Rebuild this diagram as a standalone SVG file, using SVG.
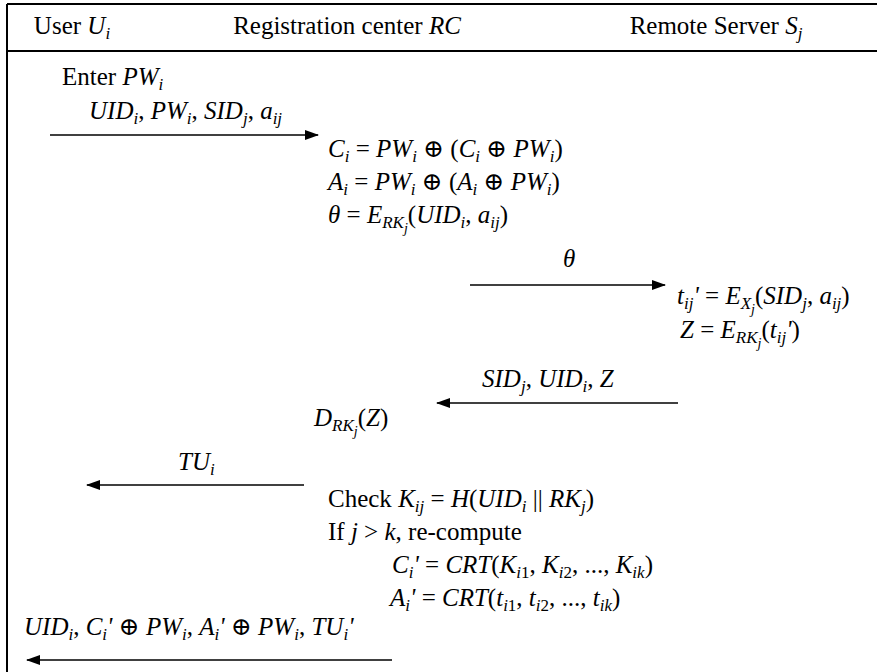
<svg xmlns="http://www.w3.org/2000/svg" width="877" height="672" viewBox="0 0 877 672">
  <style>
    text { font-family: "Liberation Serif", "Times New Roman", "DejaVu Serif", serif; font-size: 25px; fill: #000; }
    .i { font-style: italic; }
    .s { font-size: 17px; baseline-shift: -5px; }
    .ss { font-size: 14px; baseline-shift: -5px; }
    .op { font-family: "DejaVu Serif", serif; font-size: 25px; }
    .hd { text-anchor: middle; }
    .frame { stroke: #000; stroke-width: 2; fill: none; }
    .msg { stroke: #000; stroke-width: 1.5; fill: none; marker-end: url(#head); }
  </style>
  <defs>
    <marker id="head" viewBox="0 0 14 10" refX="13" refY="5" markerWidth="14" markerHeight="10" markerUnits="userSpaceOnUse" orient="auto">
      <path d="M0,0 L14,5 L0,10 Z" fill="#000"/>
    </marker>
  </defs>

  <!-- table frame: top rule, header rule, left rule -->
  <g id="frame">
    <path class="frame" d="M7,4 H877 M7,51 H877 M7,4 V672"/>
  </g>

  <!-- column headings -->
  <g id="header">
    <text class="hd" x="72" y="34">User <tspan class="i">U</tspan><tspan class="s i">i</tspan></text>
    <text class="hd" x="347" y="34">Registration center <tspan class="i">RC</tspan></text>
    <text class="hd" x="716" y="34">Remote Server <tspan class="i">S</tspan><tspan class="s i">j</tspan></text>
  </g>

  <!-- user side -->
  <g id="user">
    <text x="62" y="85">Enter <tspan class="i">PW</tspan><tspan class="s i">i</tspan></text>
  </g>

  <!-- registration center computations -->
  <g id="rc">
    <text x="328" y="157"><tspan class="i">C</tspan><tspan class="s i">i</tspan> = <tspan class="i">PW</tspan><tspan class="s i">i</tspan> <tspan class="op">⊕</tspan> (<tspan class="i">C</tspan><tspan class="s i">i</tspan> <tspan class="op">⊕</tspan> <tspan class="i">PW</tspan><tspan class="s i">i</tspan>)</text>
    <text x="328" y="190"><tspan class="i">A</tspan><tspan class="s i">i</tspan> = <tspan class="i">PW</tspan><tspan class="s i">i</tspan> <tspan class="op">⊕</tspan> (<tspan class="i">A</tspan><tspan class="s i">i</tspan> <tspan class="op">⊕</tspan> <tspan class="i">PW</tspan><tspan class="s i">i</tspan>)</text>
    <text x="328" y="223"><tspan class="i">θ</tspan> = <tspan class="i">E</tspan><tspan class="s i">RK<tspan class="ss">j</tspan></tspan>(<tspan class="i">UID</tspan><tspan class="s i">i</tspan>, <tspan class="i">a</tspan><tspan class="s i">ij</tspan>)</text>
    <text x="314" y="426"><tspan class="i">D</tspan><tspan class="s i">RK<tspan class="ss">j</tspan></tspan>(<tspan class="i">Z</tspan>)</text>
    <text x="328" y="507">Check <tspan class="i">K</tspan><tspan class="s i">ij</tspan> = <tspan class="i">H</tspan>(<tspan class="i">UID</tspan><tspan class="s i">i</tspan> || <tspan class="i">RK</tspan><tspan class="s i">j</tspan>)</text>
    <text x="328" y="540">If <tspan class="i">j</tspan> &gt; <tspan class="i">k</tspan>, re-compute</text>
    <text x="392" y="573"><tspan class="i">C</tspan><tspan class="s i">i</tspan><tspan class="i">'</tspan> = <tspan class="i">CRT</tspan>(<tspan class="i">K</tspan><tspan class="s"><tspan class="i">i</tspan>1</tspan>, <tspan class="i">K</tspan><tspan class="s"><tspan class="i">i</tspan>2</tspan>, ..., <tspan class="i">K</tspan><tspan class="s i">ik</tspan>)</text>
    <text x="390" y="606"><tspan class="i">A</tspan><tspan class="s i">i</tspan><tspan class="i">'</tspan> = <tspan class="i">CRT</tspan>(<tspan class="i">t</tspan><tspan class="s"><tspan class="i">i</tspan>1</tspan>, <tspan class="i">t</tspan><tspan class="s"><tspan class="i">i</tspan>2</tspan>, ..., <tspan class="i">t</tspan><tspan class="s i">ik</tspan>)</text>
  </g>

  <!-- remote server computations -->
  <g id="server">
    <text x="677" y="304"><tspan class="i">t</tspan><tspan class="s i">ij</tspan><tspan class="i">'</tspan> = <tspan class="i">E</tspan><tspan class="s i">X<tspan class="ss">j</tspan></tspan>(<tspan class="i">SID</tspan><tspan class="s i">j</tspan>, <tspan class="i">a</tspan><tspan class="s i">ij</tspan>)</text>
    <text x="680" y="338"><tspan class="i">Z</tspan> = <tspan class="i">E</tspan><tspan class="s i">RK<tspan class="ss">j</tspan></tspan>(<tspan class="i">t</tspan><tspan class="s i">ij</tspan><tspan class="i">'</tspan>)</text>
  </g>

  <!-- messages -->
  <g id="connectors">
    <line class="msg" x1="50" y1="135" x2="318" y2="135"/>
    <line class="msg" x1="470" y1="285" x2="665" y2="285"/>
    <line class="msg" x1="678" y1="403" x2="437" y2="403"/>
    <line class="msg" x1="304" y1="485" x2="87" y2="485"/>
    <line class="msg" x1="392" y1="660" x2="27" y2="660"/>
    <text x="89" y="119"><tspan class="i">UID</tspan><tspan class="s i">i</tspan>, <tspan class="i">PW</tspan><tspan class="s i">i</tspan>, <tspan class="i">SID</tspan><tspan class="s i">j</tspan>, <tspan class="i">a</tspan><tspan class="s i">ij</tspan></text>
    <text x="563" y="267" class="i">θ</text>
    <text x="482" y="387"><tspan class="i">SID</tspan><tspan class="s i">j</tspan>, <tspan class="i">UID</tspan><tspan class="s i">i</tspan>, <tspan class="i">Z</tspan></text>
    <text x="178" y="470"><tspan class="i">TU</tspan><tspan class="s i">i</tspan></text>
    <text x="24" y="635"><tspan class="i">UID</tspan><tspan class="s i">i</tspan>, <tspan class="i">C</tspan><tspan class="s i">i</tspan><tspan class="i">'</tspan> <tspan class="op">⊕</tspan> <tspan class="i">PW</tspan><tspan class="s i">i</tspan>, <tspan class="i">A</tspan><tspan class="s i">i</tspan><tspan class="i">'</tspan> <tspan class="op">⊕</tspan> <tspan class="i">PW</tspan><tspan class="s i">i</tspan>, <tspan class="i">TU</tspan><tspan class="s i">i</tspan><tspan class="i">'</tspan></text>
  </g>
</svg>
